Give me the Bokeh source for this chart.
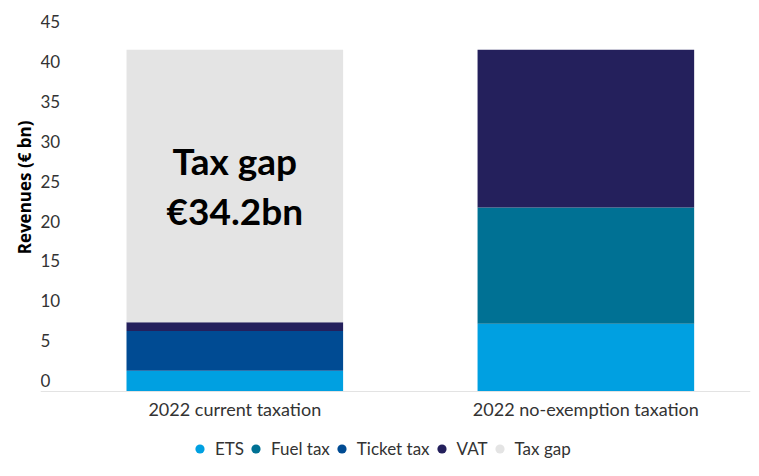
from bokeh.plotting import figure
from bokeh.models import Range1d, Legend, LegendItem, Title, ColumnDataSource, Span
from bokeh.core.properties import value
from bokeh.embed import file_html
from bokeh.resources import INLINE

# ---- data ----
categories = ["2022 current taxation", "2022 no-exemption taxation"]
series = ["ETS", "Fuel tax", "Ticket tax", "VAT", "Tax gap"]
ets = [2.6, 8.5]
fuel_tax = [0.0, 14.6]
ticket_tax = [5.0, 0.0]
vat = [1.1, 19.8]
tax_gap = [34.2, 0.0]
y_ticks = [0, 5, 10, 15, 20, 25, 30, 35, 40, 45]
y_title = "Revenues (€ bn)"

colors = ["#00a0e1", "#007194", "#004b93", "#24205c", "#e4e4e4"]
FONT = "Lato"
X0, X1 = -0.5535, 1.469
Y0, Y1 = -8.66, 47.57

xs = list(range(len(categories)))
src = ColumnDataSource(dict(x=xs, **{"ETS": ets, "Fuel tax": fuel_tax, "Ticket tax": ticket_tax,
                                      "VAT": vat, "Tax gap": tax_gap}))

p = figure(width=751, height=460, output_backend="svg", toolbar_location=None,
           x_range=Range1d(X0, X1), y_range=Range1d(Y0, Y1),
           x_axis_type=None, y_axis_type=None, min_border_left=40, min_border_right=1,
           min_border_top=12, min_border_bottom=0)
p.outline_line_color = None
p.background_fill_color = "white"
p.border_fill_color = "white"

p.vbar_stack(series, x="x", width=0.617, source=src, color=colors, line_color=None)

# baseline
p.add_layout(Span(location=0, dimension="width", line_color="#e3e3e3", line_width=1))

# category labels
p.text(x=xs, y=[0] * len(xs), text=categories, y_offset=17,
       text_font=value(FONT), text_font_size="18px", text_color="#333333",
       text_align="center", text_baseline="middle")

# y tick labels (left aligned, floating above their values)
p.text(x=[X0] * len(y_ticks), y=y_ticks, text=[str(v) for v in y_ticks],
       text_font=value(FONT), text_font_size="17px", text_color="#333333",
       text_align="left", text_baseline="middle", y_offset=-11)

# y title
p.add_layout(Title(text=y_title, align="right", offset=108, text_font="Open Sans",
                   text_font_size="17px", text_font_style="bold", text_color="#000000",
                   standoff=10), "left")

# tax gap annotation
base = ets[0] + fuel_tax[0] + ticket_tax[0] + vat[0]
mid = base + tax_gap[0] / 2
p.text(x=[0], y=[mid], text=["Tax gap"], y_offset=-25,
       text_font=value(FONT), text_font_size="37px", text_font_style="bold",
       text_color="#000000", text_align="center", text_baseline="middle")
p.text(x=[0], y=[mid], text=[f"€{tax_gap[0]}bn"], y_offset=25,
       text_font=value(FONT), text_font_size="37px", text_font_style="bold",
       text_color="#000000", text_align="center", text_baseline="middle")

# legend with circle markers (proxy renderers, nothing drawn in the frame)
items = []
for name, c in zip(series, colors):
    r = p.scatter(x=[float("nan")], y=[float("nan")], marker="circle", size=9,
                  fill_color=c, line_color=None)
    items.append(LegendItem(label=name, renderers=[r]))
leg = Legend(items=items, orientation="horizontal", location=(148, 0),
             glyph_width=23, glyph_height=23, label_height=23, label_standoff=4,
             spacing=0, padding=0, margin=0, border_line_color=None,
             background_fill_alpha=0, label_text_font=FONT,
             label_text_font_size="17px", label_text_color="#333333")
p.add_layout(leg, "center")

open("out.html", "w").write(file_html(p, INLINE))
